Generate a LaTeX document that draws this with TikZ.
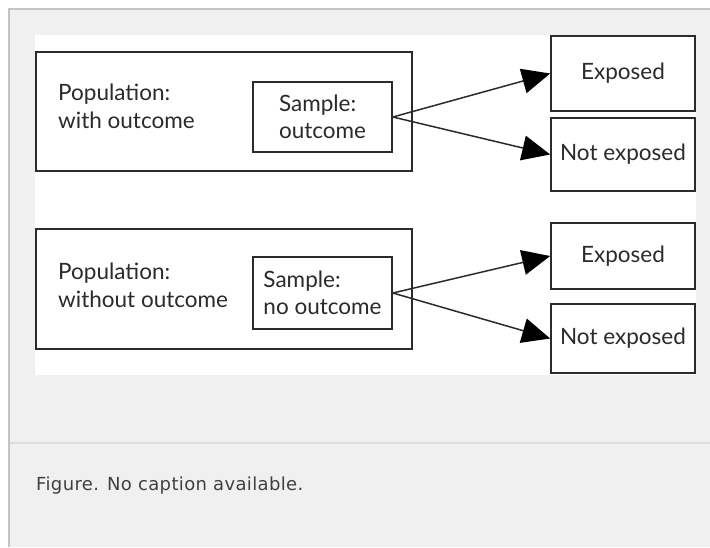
\documentclass[tikz,border=0pt]{standalone}
\usepackage{fontspec}
\usetikzlibrary{arrows.meta}
\newfontfamily\figfont{Lato}
\newfontfamily\capfont[LetterSpace=2]{DejaVu Sans}
\definecolor{pagegray}{HTML}{F0F0F0}
\definecolor{rulegray}{HTML}{C4C4C4}
\definecolor{sepgray}{HTML}{DEDEDE}
\definecolor{ink}{HTML}{2B2B2B}
\begin{document}
\begin{tikzpicture}[x=1pt,y=-1pt]
\tikzstyle{bx} = [rectangle,draw=ink,line width=1.7pt,inner sep=0pt] %box
\tikzstyle{tx} = [inner sep=0pt,align=left,text=ink,font=\figfont\fontsize{22.5}{27.5}\selectfont] %text
\tikzstyle{ar} = [-{Triangle[length=28pt,width=25pt,color=black]},line width=1.5pt,draw=ink] %arrow
\useasboundingbox(0,0)rectangle(710,547);
\fill[white](0,0)rectangle(710,547);
\fill[pagegray](9,9)rectangle(710,547);
\draw[rulegray,line width=2pt](9,547)--(9,9)--(710,9);
\draw[sepgray,line width=2pt](10,443)--(710,443);
\fill[white](35,35)rectangle(696,375);
% with outcome
\node[bx,minimum width=376pt,minimum height=119pt](pa)at(224,111.5){};
\node[tx,anchor=base west](ta)at(58,128){Population:\\with outcome};
\node[bx,tx,minimum width=139pt,minimum height=70pt](sa)at(322.5,117){Sample:\\outcome};
\node[bx,tx,align=center,minimum width=144pt,minimum height=75pt](ea)at(623,73.5){Exposed};
\node[bx,tx,align=center,minimum width=144pt,minimum height=73pt](na)at(623,154.5){Not exposed};
\draw[ar](sa.east)--(ea.west);
\draw[ar](sa.east)--(na.west);
% without outcome
\node[bx,minimum width=376pt,minimum height=120pt](pb)at(224,289){};
\node[tx,anchor=base west](tb)at(58,307){Population:\\without outcome};
\node[bx,tx,minimum width=139pt,minimum height=72pt](sb)at(322.5,293){Sample:\\no outcome};
\node[bx,tx,align=center,minimum width=144pt,minimum height=66pt](eb)at(623,256){Exposed};
\node[bx,tx,align=center,minimum width=144pt,minimum height=69pt](nb)at(623,338.5){Not exposed};
\draw[ar](sb.east)--(eb.west);
\draw[ar](sb.east)--(nb.west);
% caption
\node[inner sep=0pt,anchor=base west,text=black!75,font=\capfont\fontsize{18}{21}\selectfont](cap)at(36,490){Figure. No caption available.};
\end{tikzpicture}
\end{document}
